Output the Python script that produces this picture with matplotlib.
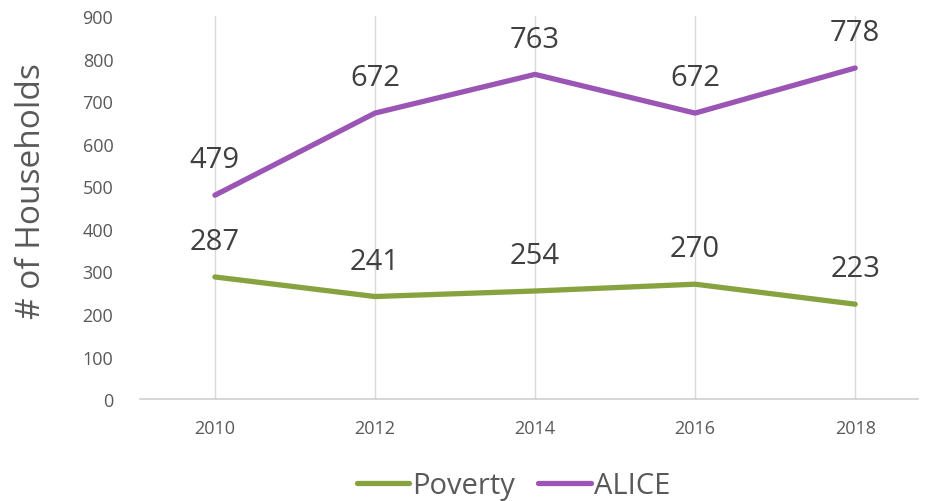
import matplotlib.pyplot as plt

years = ["2010", "2012", "2014", "2016", "2018"]
poverty = [287, 241, 254, 270, 223]
alice = [479, 672, 763, 672, 778]

green = "#86a340"
purple = "#9b55b5"
grey = "#595959"

plt.rcParams['font.family'] = ['Open Sans', 'DejaVu Sans']

fig = plt.figure(figsize=(9.25, 5.02), dpi=100)
ax = fig.add_axes([0.151, 0.203, 0.841, 0.763])

x = range(len(years))
ax.plot(x, poverty, color=green, lw=3.8, label="Poverty", solid_capstyle="round")
ax.plot(x, alice, color=purple, lw=3.8, label="ALICE", solid_capstyle="round")

# data labels above each point
for series in (poverty, alice):
    for i, v in enumerate(series):
        ax.annotate(str(v), (i, v), xytext=(0, 15), textcoords="offset points",
                    ha="center", va="bottom", fontsize=21, color="#404040")

ax.set_xlim(-0.47, 4.39)
ax.set_ylim(0, 900)
ax.set_xticks(list(x))
ax.set_xticklabels(years)
ax.set_yticks(range(0, 901, 100))
ax.tick_params(length=0, labelsize=13, labelcolor=grey)
ax.tick_params(axis="x", pad=14)
ax.tick_params(axis="y", pad=19)
ax.grid(axis="x", color="#d9d9d9", lw=1)
for s in ["top", "right", "left"]:
    ax.spines[s].set_visible(False)
ax.spines["bottom"].set_color("#d0d0d0")
ax.spines["bottom"].set_linewidth(1.2)

ax.set_ylabel("# of Households", fontsize=24, color=grey)
ax.yaxis.set_label_coords(-0.118, 0.546)

fig.legend(loc="center", bbox_to_anchor=(0.555, 0.03), ncol=2, frameon=False,
           fontsize=21, labelcolor=grey, handlelength=1.8, handletextpad=0.1,
           columnspacing=0.8)

fig.savefig("out.png", dpi=100)
